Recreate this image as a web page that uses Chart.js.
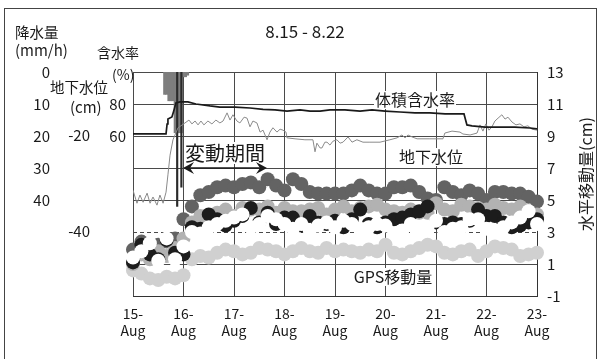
<!DOCTYPE html>
<html>
<head>
<meta charset="utf-8">
<script src="https://cdn.jsdelivr.net/npm/chart.js@4/dist/chart.umd.min.js"></script>
<style>
  html, body { margin: 0; padding: 0; background: #fff; }
  #wrap { width: 599px; height: 359px; position: relative; }
</style>
</head>
<body>
<div id="wrap"><canvas id="c"></canvas></div>
<script>
// ---- data (time in hours from 15-Aug 00:00) ----
const dayLabels = ['15-Aug', '16-Aug', '17-Aug', '18-Aug', '19-Aug', '20-Aug', '21-Aug', '22-Aug', '23-Aug'];
const gpsTicks = [-1, 1, 3, 5, 7, 9, 11, 13];
const rainTicks = [0, 10, 20, 30, 40];
const gwTicks = [-20, -40];
const wcTicks = [60, 80];

// rainfall (mm/h)
const rainHours = [15, 16, 17, 18, 19, 20, 21, 22, 23, 24, 25, 26];
const rainValues = [7, 7, 9, 9, 9, 19, 19, 19, 19, 1.5, 1.5, 1];
const rainPeakHours = [21, 23];
const rainPeakValues = [42, 36];

// volumetric water content (%)
const wcHours = [0, 8.1, 15.7, 16.2, 16.6, 18.5, 19.5, 20.4, 22.3, 26.1, 29.9, 36.6, 41.3, 48.5, 55.6, 61.8, 67.5, 73.2, 79.4, 84.1, 88.9, 93.6, 100.7, 107.9, 113.6, 119.8, 126.9, 134.0, 141.1, 148.3, 157.3, 158.7, 161.1, 167.3, 174.4, 181.5, 188.7, 192.0];
const wcValues = [61.3, 61.3, 61.3, 67.5, 70.6, 71.9, 76.3, 80.6, 81.3, 81.3, 80.0, 78.8, 78.1, 78.1, 77.5, 76.6, 76.3, 75.6, 76.3, 75.6, 75.6, 76.3, 76.3, 75.6, 76.3, 75.6, 75.0, 74.4, 74.4, 73.8, 73.8, 66.9, 66.3, 65.6, 65.6, 65.6, 65.0, 64.4];

// groundwater level (cm)
const gwHours = [0, 1.9, 3.3, 4.8, 6.7, 8.1, 9.5, 11.4, 12.8, 14.3, 15.7, 16.6, 17.6, 19.0, 21.4, 24.7, 26.6, 28.0, 29.5, 30.9, 32.3, 33.7, 35.6, 37.5, 39.4, 41.3, 42.8, 44.7, 46.1, 47.5, 49.4, 50.8, 52.8, 54.2, 55.6, 57.0, 58.9, 60.4, 61.8, 63.7, 65.1, 66.5, 68.4, 69.9, 71.3, 72.7, 73.2, 77.0, 81.7, 85.5, 86.5, 87.4, 88.9, 89.8, 91.2, 92.2, 93.6, 95.0, 96.9, 98.4, 99.8, 102.2, 104.1, 106.4, 109.3, 112.6, 117.4, 122.1, 125.5, 127.8, 129.3, 130.7, 132.6, 135.0, 141.1, 147.3, 148.2, 151.6, 155.4, 156.8, 160.2, 163.5, 164.9, 166.3, 167.7, 169.2, 170.6, 172.0, 173.5, 175.3, 176.8, 178.2, 180.1, 182.0, 183.9, 185.8, 187.7, 189.6, 192.0];
const gwValues = [-31.5, -34.2, -32.5, -34.0, -32.1, -34.2, -32.9, -34.6, -32.5, -34.2, -31.9, -28.3, -24.2, -21.0, -18.5, -17.5, -16.9, -17.7, -17.1, -17.9, -17.1, -17.9, -17.1, -17.7, -16.9, -17.5, -17.1, -15.4, -16.9, -15.8, -17.1, -17.5, -16.3, -16.5, -18.3, -17.1, -17.5, -19.4, -19.0, -21.0, -19.4, -18.5, -19.4, -18.8, -19.0, -19.4, -20.6, -20.8, -21.0, -21.0, -23.5, -21.7, -22.7, -22.7, -21.5, -21.5, -22.1, -21.3, -21.0, -21.7, -21.5, -20.4, -21.5, -21.0, -21.5, -21.5, -21.5, -21.0, -20.6, -20.0, -20.6, -20.0, -20.4, -20.8, -20.8, -20.8, -19.6, -19.2, -19.4, -19.8, -20.0, -19.6, -17.9, -19.2, -17.7, -19.0, -18.3, -17.1, -16.5, -15.8, -16.7, -16.3, -17.3, -17.9, -17.7, -18.3, -18.1, -18.8, -19.0];

// GPS horizontal displacement (cm), 4-hourly, five receivers
const gpsHours = [0, 4, 8, 12, 16, 20, 24, 28, 32, 36, 40, 44, 48, 52, 56, 60, 64, 68, 72, 76, 80, 84, 88, 92, 96, 100, 104, 108, 112, 116, 120, 124, 128, 132, 136, 140, 144, 148, 152, 156, 160, 164, 168, 172, 176, 180, 184, 188, 192];
const gpsA = [1.9, 2.4, 2.1, 2.2, 2.4, 2.6, 3.8, 4.6, 5.3, 5.5, 5.8, 5.9, 5.8, 6.0, 6.1, 5.8, 6.3, 5.9, 5.6, 6.3, 6.0, 5.5, 5.4, 5.4, 5.4, 5.4, 5.6, 5.9, 5.6, 5.4, 5.4, 5.8, 5.8, 5.9, 5.5, 5.1, 5.0, 5.8, 5.5, 5.3, 5.6, 5.4, 5.0, 5.5, 5.5, 5.4, 5.4, 5.2, 4.9];
const gpsB = [1.0, 1.6, 1.3, 1.8, 1.5, 2.0, 2.6, 3.6, 4.0, 3.8, 4.2, 4.4, 4.0, 4.5, 4.4, 4.4, 4.6, 4.2, 4.5, 4.3, 4.3, 4.4, 4.5, 4.1, 4.4, 4.6, 4.3, 4.5, 4.6, 4.7, 4.4, 4.3, 4.2, 4.4, 4.2, 4.2, 4.8, 4.4, 4.3, 4.7, 4.6, 4.5, 4.4, 4.7, 4.5, 4.4, 4.6, 4.3, 4.1];
const gpsC = [1.1, 2.2, 1.6, 1.3, 2.5, 1.7, 1.6, 3.3, 3.2, 4.1, 3.8, 3.4, 3.7, 4.0, 4.5, 3.6, 4.2, 3.5, 3.9, 3.9, 3.4, 4.0, 3.6, 3.5, 3.7, 3.3, 3.8, 4.4, 3.5, 3.3, 3.6, 3.8, 3.9, 4.1, 4.3, 4.6, 3.6, 3.5, 3.6, 3.5, 3.7, 4.4, 4.0, 4.0, 3.6, 3.3, 3.4, 3.6, 3.8];
const gpsD = [1.4, 1.8, 2.3, 1.2, 2.6, 1.3, 2.1, 3.0, 2.9, 3.3, 3.5, 3.7, 3.9, 4.1, 3.3, 3.5, 4.0, 3.8, 3.5, 3.2, 3.5, 3.1, 3.4, 3.6, 3.3, 3.7, 3.5, 3.2, 3.3, 3.5, 3.4, 2.9, 3.1, 3.5, 2.9, 3.3, 3.7, 3.0, 3.2, 3.3, 3.8, 3.8, 3.2, 3.1, 3.3, 3.6, 3.9, 4.3, 3.5];
const gpsE = [0.6, 0.4, 0.1, 0.0, 0.2, 0.1, 0.3, 1.3, 1.5, 1.4, 1.7, 1.9, 1.8, 1.6, 1.7, 2.0, 1.9, 1.8, 1.6, 1.8, 2.0, 1.8, 1.7, 2.0, 1.8, 1.9, 1.8, 1.7, 1.9, 1.8, 2.2, 1.7, 1.6, 1.8, 2.0, 2.2, 2.1, 1.7, 1.6, 1.8, 1.9, 1.5, 1.8, 2.1, 2.0, 1.9, 1.5, 1.6, 1.7];

// ---- helpers ----
const FONT = "'Noto Sans CJK JP', 'Noto Sans', sans-serif";
const toPoints = (hours, vals) => hours.map((h, i) => ({ x: h / 24, y: vals[i] }));
const fixedTicks = list => scale => { scale.ticks = list.map(v => ({ value: v })); };
const tickFont = { family: FONT, size: 15 };

function gpsSet(label, vals, color, order) {
  return {
    type: 'scatter', label, data: toPoints(gpsHours, vals), yAxisID: 'y',
    backgroundColor: color, borderColor: color, borderWidth: 0,
    pointRadius: 7, pointHoverRadius: 7, clip: false, order
  };
}

// text labels, arrow and frame drawn on top of the plot
const overlay = {
  id: 'overlay',
  afterDatasetsDraw(chart) {
    const ctx = chart.ctx;
    ctx.save();
    ctx.textBaseline = 'middle';
    const boxed = (text, cx, cy, size) => {
      ctx.font = size + 'px ' + FONT;
      const w = ctx.measureText(text).width;
      ctx.fillStyle = '#fff';
      ctx.fillRect(cx - w / 2 - 1, cy - size / 2 - 1, w + 2, size + 2);
      ctx.fillStyle = '#1a1a1a';
      ctx.textAlign = 'center';
      ctx.fillText(text, cx, cy);
    };
    boxed('体積含水率', 415, 100, 16);
    boxed('地下水位', 431, 157, 16);
    boxed('変動期間', 225, 153, 20);
    boxed('GPS移動量', 393, 277, 16);

    // double-headed arrow for the movement period
    const y = 168, x1 = 183, x2 = 267;
    ctx.strokeStyle = '#1a1a1a';
    ctx.fillStyle = '#1a1a1a';
    ctx.lineWidth = 1.6;
    ctx.beginPath(); ctx.moveTo(x1 + 4, y); ctx.lineTo(x2 - 4, y); ctx.stroke();
    const head = (tip, dir) => {
      ctx.beginPath();
      ctx.moveTo(tip, y);
      ctx.lineTo(tip + dir * 11, y - 6);
      ctx.lineTo(tip + dir * 7, y);
      ctx.lineTo(tip + dir * 11, y + 6);
      ctx.closePath();
      ctx.fill();
    };
    head(x1, 1);
    head(x2, -1);
    ctx.restore();
  },
  afterDraw(chart) {
    const ctx = chart.ctx;
    ctx.save();
    ctx.fillStyle = '#1a1a1a';
    ctx.textBaseline = 'middle';
    ctx.textAlign = 'left';
    const txt = (t, x, y, size) => { ctx.font = size + 'px ' + FONT; ctx.fillText(t, x, y); };
    txt('降水量', 15, 32, 14.5);
    txt('(mm/h)', 15, 50, 15);
    txt('含水率', 97, 53, 14);
    txt('(%)', 112, 75, 14);
    txt('地下水位', 50, 87, 14.5);
    txt('(cm)', 70, 107, 15);

    ctx.textAlign = 'center';
    txt('8.15 - 8.22', 305, 32, 17);

    ctx.save();
    ctx.translate(586, 174);
    ctx.rotate(-Math.PI / 2);
    txt('水平移動量(cm)', 0, 0, 16);
    ctx.restore();

    // outer frame
    ctx.strokeStyle = '#444';
    ctx.lineWidth = 1;
    ctx.strokeRect(4.5, 8.5, 592, 400);
    ctx.restore();
  }
};

new Chart(document.getElementById('c'), {
  type: 'scatter',
  data: {
    datasets: [
      {
        type: 'line', label: '体積含水率', data: toPoints(wcHours, wcValues), yAxisID: 'yWC',
        borderColor: '#1a1a1a', borderWidth: 1.7, pointRadius: 0, tension: 0, order: 0
      },
      {
        type: 'line', label: '地下水位', data: toPoints(gwHours, gwValues), yAxisID: 'yGW',
        borderColor: '#8a8a8a', borderWidth: 1, pointRadius: 0, tension: 0, order: 0
      },
      {
        type: 'bar', label: '降水量(ピーク)', data: toPoints(rainPeakHours, rainPeakValues), yAxisID: 'yRain',
        backgroundColor: '#2a2a2a', barThickness: 1.5, grouped: false, order: 1
      },
      {
        type: 'bar', label: '降水量', data: toPoints(rainHours, rainValues), yAxisID: 'yRain',
        backgroundColor: '#7d7d7d', barPercentage: 1, categoryPercentage: 1, grouped: false, order: 2
      },
      gpsSet('GPS-4', gpsD, '#ffffff', 3),
      gpsSet('GPS-3', gpsC, '#1c1c1c', 4),
      gpsSet('GPS-2', gpsB, '#b2b2b2', 5),
      gpsSet('GPS-1', gpsA, '#636363', 6),
      gpsSet('GPS-5', gpsE, '#d0d0d0', 7)
    ]
  },
  options: {
    responsive: true,
    maintainAspectRatio: false,
    animation: false,
    devicePixelRatio: 1,
    layout: { padding: { top: 72, left: 0, right: 0, bottom: 0 } },
    plugins: { legend: { display: false }, tooltip: { enabled: false } },
    scales: {
      x: {
        type: 'linear', position: 'bottom', min: 0, max: 8, offset: false,
        afterBuildTicks: fixedTicks(dayLabels.map((_, i) => i)),
        afterFit: s => { s.height = 63; },
        ticks: {
          autoSkip: false, maxRotation: 0, padding: 9, color: '#1a1a1a',
          font: { family: FONT, size: 14 },
          callback: (v, i) => { const p = dayLabels[i].split('-'); return [p[0] + '-', p[1]]; }
        },
        grid: { color: '#4a4a4a', lineWidth: 1, drawTicks: false, offset: false },
        border: { display: true, color: '#333' }
      },
      y: {
        type: 'linear', position: 'right', min: -1, max: 13,
        afterBuildTicks: fixedTicks(gpsTicks),
        afterFit: s => { s.width = 62; },
        ticks: { padding: 10, color: '#1a1a1a', font: tickFont },
        grid: { color: '#4a4a4a', lineWidth: 1, drawTicks: false },
        border: { display: true, color: '#333', dash: ctx => (ctx.tick && ctx.tick.value === 3) ? [4, 3] : [] }
      },
      yRain: {
        type: 'linear', position: 'left', weight: 3, reverse: true, min: 0, max: 70,
        afterBuildTicks: fixedTicks(rainTicks),
        afterFit: s => { s.width = 55; },
        ticks: { padding: 5, color: '#1a1a1a', font: tickFont },
        grid: { display: false, drawTicks: false },
        border: { display: false }
      },
      yGW: {
        type: 'linear', position: 'left', weight: 2, min: -53.5, max: -6.9,
        afterBuildTicks: fixedTicks(gwTicks),
        afterFit: s => { s.width = 40; },
        ticks: { padding: 5, color: '#1a1a1a', font: tickFont },
        grid: { display: false, drawTicks: false },
        border: { display: false }
      },
      yWC: {
        type: 'linear', position: 'left', weight: 1, min: -40, max: 100,
        afterBuildTicks: fixedTicks(wcTicks),
        afterFit: s => { s.width = 38; },
        ticks: { padding: 7, color: '#1a1a1a', font: tickFont },
        grid: { display: false, drawTicks: false },
        border: { display: false }
      }
    }
  },
  plugins: [overlay]
});
</script>
</body>
</html>
